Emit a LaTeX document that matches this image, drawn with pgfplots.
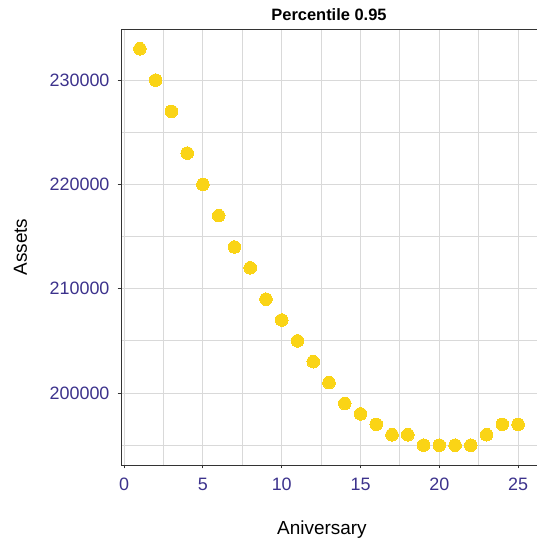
\documentclass[border=0pt]{standalone}
\usepackage{fontspec}
\setmainfont{Liberation Sans}
\usepackage{pgfplots}
\pgfplotsset{compat=1.18}
\definecolor{tickc}{RGB}{60,50,140}
\definecolor{ptc}{RGB}{250,212,22}
\definecolor{gridc}{RGB}{217,217,217}
\definecolor{framec}{RGB}{51,51,51}
\begin{document}
\begin{tikzpicture}[x=1bp,y=1bp]
\useasboundingbox (0,0) rectangle (537,543);
\begin{axis}[
  at={(121bp,78bp)}, anchor=south west,
  scale only axis, width=416bp, height=436bp,
  xmin=-0.2, xmax=26.2, ymin=193100, ymax=234900,
  xtick={0,5,10,15,20,25},
  ytick={200000,210000,220000,230000},
  minor xtick={2.5,7.5,12.5,17.5,22.5},
  minor ytick={195000,205000,215000,225000},
  grid=both,
  major grid style={draw=gridc, line width=0.9bp},
  minor grid style={draw=gridc, line width=0.9bp},
  axis line style={draw=framec, line width=0.9bp},
  tick align=outside, xtick pos=bottom, ytick pos=left,
  major tick length=3.5bp, minor tick length=0pt,
  every tick/.style={draw=framec, line width=0.9bp},
  /pgf/number format/assume math mode=true,
  scaled y ticks=false,
  yticklabel={\pgfmathprintnumber[fixed,1000 sep={}]{\tick}},
  ticklabel style={font=\fontsize{18}{19}\selectfont, text=tickc},
  yticklabel style={xshift=-4.5bp},
  xticklabel style={yshift=-6bp},
  title={Percentile 0.95},
  title style={font=\fontsize{16.5}{18}\selectfont\bfseries, at={(axis description cs:0.5,1)}, anchor=base, yshift=3bp},
  xlabel={Aniversary},
  xlabel style={font=\fontsize{19}{20}\selectfont, at={(axis description cs:0.483,-0.159)}, anchor=base},
  ylabel={Assets},
  ylabel style={font=\fontsize{19}{20}\selectfont, at={(axis description cs:-0.226,0.5)}, anchor=base},
]
\addplot[color=ptc, only marks, mark=*, mark size=6.3bp, mark options={draw=ptc, fill=ptc, line width=0pt}] table {
x y
1 233000
2 230000
3 227000
4 223000
5 220000
6 217000
7 214000
8 212000
9 209000
10 207000
11 205000
12 203000
13 201000
14 199000
15 198000
16 197000
17 196000
18 196000
19 195000
20 195000
21 195000
22 195000
23 196000
24 197000
25 197000
};
\end{axis}
\end{tikzpicture}
\end{document}
